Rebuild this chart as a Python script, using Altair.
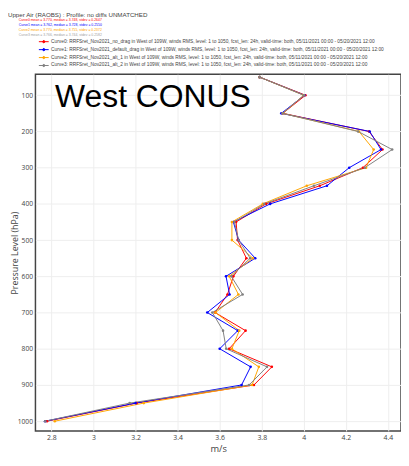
import altair as alt
import pandas as pd

levels = [50, 100, 150, 200, 250, 300, 350, 400, 450, 500,
          550, 600, 650, 700, 750, 800, 850, 900, 950, 1000]

curve0 = [3.79, 4.008, 3.900, 4.310, 4.374, 4.281, 4.076, 3.820, 3.678, 3.685,
          3.727, 3.665, 3.637, 3.578, 3.723, 3.645, 3.848, 3.763, 3.205, 2.779]
curve1 = [3.79, 4.003, 3.893, 4.313, 4.367, 4.216, 4.110, 3.840, 3.665, 3.690,
          3.769, 3.630, 3.647, 3.541, 3.686, 3.600, 3.747, 3.704, 3.200, 2.770]
curve2 = [3.79, 4.000, 3.900, 4.262, 4.332, 4.296, 4.014, 3.805, 3.658, 3.658,
          3.758, 3.645, 3.689, 3.580, 3.693, 3.658, 3.786, 3.754, 3.239, 2.816]
curve3 = [3.79, 4.000, 3.900, 4.258, 4.420, 4.290, 4.048, 3.812, 3.670, 3.690,
          3.745, 3.655, 3.709, 3.565, 3.616, 3.631, 3.825, 3.740, 3.172, 2.770]

curve_labels = [
    "Curve0: RRFSret_Nov2021_no_drag in West of 109W, winds RMS, level: 1 to 1050, fcst_len: 24h, valid-time: both, 05/11/2021 00:00 - 05/20/2021 12:00",
    "Curve1: RRFSret_Nov2021_default_drag in West of 109W, winds RMS, level: 1 to 1050, fcst_len: 24h, valid-time: both, 05/11/2021 00:00 - 05/20/2021 12:00",
    "Curve2: RRFSret_Nov2021_alt_1 in West of 109W, winds RMS, level: 1 to 1050, fcst_len: 24h, valid-time: both, 05/11/2021 00:00 - 05/20/2021 12:00",
    "Curve3: RRFSret_Nov2021_alt_2 in West of 109W, winds RMS, level: 1 to 1050, fcst_len: 24h, valid-time: both, 05/11/2021 00:00 - 05/20/2021 12:00",
]
curve_colors = ["#ff0000", "#0000ff", "#ffa500", "#808080"]

stats_lines = [
    "Curve0 mean = 3.770, median = 3.748, stdev = 0.2647",
    "Curve1 mean = 3.762, median = 3.728, stdev = 0.2550",
    "Curve2 mean = 3.770, median = 3.755, stdev = 0.2372",
    "Curve3 mean = 3.766, median = 3.744, stdev = 0.2582",
]
stats_colors = ["#ff0000", "#0000ff", "#ffa500", "#a0a0a0"]

title_text = "Upper Air (RAOBS) : Profile: no diffs UNMATCHED"
region_text = "West CONUS"

x_ticks = [2.8, 3.0, 3.2, 3.4, 3.6, 3.8, 4.0, 4.2, 4.4]
y_ticks = [100, 200, 300, 400, 500, 600, 700, 800, 900, 1000]

rows = []
for lab, vals in zip(curve_labels, [curve0, curve1, curve2, curve3]):
    for lev, v in zip(levels, vals):
        rows.append({"curve": lab, "level": lev, "value": v})
df = pd.DataFrame(rows)

PLOT_W, PLOT_H = 373, 364

xscale = alt.Scale(domain=[2.724, 4.462], nice=False, zero=False)
yscale = alt.Scale(domain=[42, 1027], nice=False, zero=False, reverse=True)
cscale = alt.Scale(domain=curve_labels, range=curve_colors)

legend = alt.Legend(
    title=None, orient="none", legendX=5.5, legendY=-36.2, direction="vertical",
    symbolType="M-2,0H2M-0.45,0A0.45,0.45,0,1,1,0.45,0A0.45,0.45,0,1,1,-0.45,0Z",
    symbolSize=25, symbolStrokeWidth=1, labelFontSize=4.9, labelFont="Liberation Sans",
    labelColor="#444", labelOffset=4.5, labelLimit=600, rowPadding=0.1, padding=0,
    symbolOpacity=1,
)

base = alt.Chart(df).encode(
    x=alt.X("value:Q", scale=xscale,
            axis=alt.Axis(values=x_ticks, format="~g", title="m/s", grid=True,
                          gridColor="#eeeeee", domain=False, ticks=False,
                          labelFontSize=7, labelColor="#444", labelFont="Open Sans",
                          labelPadding=3, titleFontSize=9.5, titleFont="Open Sans",
                          titleFontWeight="normal", titleColor="#444",
                          titleY=17.5, titleBaseline="middle")),
    y=alt.Y("level:Q", scale=yscale,
            axis=alt.Axis(values=y_ticks, format="d", title="Pressure Level (hPa)",
                          grid=True, gridColor="#eeeeee", domain=False, ticks=False,
                          labelFontSize=6.8, labelColor="#444", labelFont="Open Sans",
                          labelPadding=3, titleFontSize=9, titleFont="Open Sans",
                          titleFontWeight="normal", titleColor="#444",
                          titleX=-21.5, titleY=182, titleAngle=-90,
                          titleBaseline="middle", titleAlign="center")),
    color=alt.Color("curve:N", scale=cscale, legend=legend),
)

lines = base.mark_line(strokeWidth=1, clip=True).encode(order=alt.Order("level:Q"))
points = base.mark_circle(size=7, opacity=1, clip=True)

region = alt.Chart(pd.DataFrame({"t": [region_text]})).mark_text(
    font="Liberation Sans", fontSize=32.5, align="left", baseline="alphabetic",
    color="#000000").encode(text="t:N", x=alt.value(20), y=alt.value(33))

title = alt.Chart(pd.DataFrame({"t": [title_text]})).mark_text(
    font="Liberation Sans", fontSize=6.3, align="left", baseline="middle",
    color="#444444").encode(text="t:N", x=alt.value(-28), y=alt.value(-59.9))

stats_layers = []
for i, (s, c) in enumerate(zip(stats_lines, stats_colors)):
    stats_layers.append(
        alt.Chart(pd.DataFrame({"t": [s]})).mark_text(
            font="Liberation Sans", fontSize=3.5, align="left", baseline="middle",
            color=c).encode(text="t:N", x=alt.value(19 - 36),
                            y=alt.value(15.7 - 71 + 5 * i))
    )

chart = alt.layer(lines, points, region, title, *stats_layers).properties(
    width=PLOT_W, height=PLOT_H,
    autosize=alt.AutoSizeParams(type="none"),
    padding={"left": 28, "top": 63, "right": 0, "bottom": 23},
).configure_view(stroke="#444444", strokeWidth=1.5)

chart.save("out.html", embed_options={"renderer": "svg", "actions": False})
